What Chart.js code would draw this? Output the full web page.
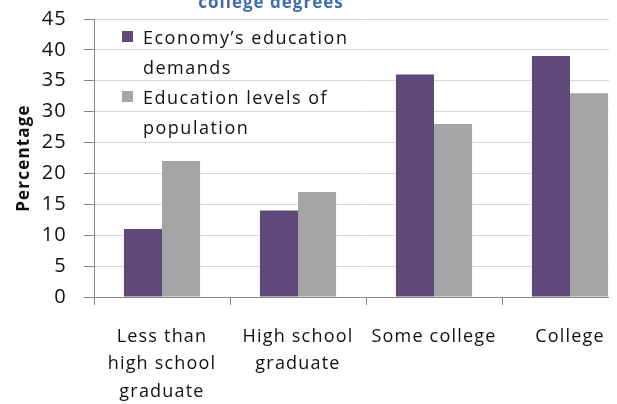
<!DOCTYPE html>
<html lang="en">
<head>
    <meta charset="UTF-8">
    <title>college degrees</title>
    <script src="https://cdn.jsdelivr.net/npm/chart.js"></script>
    <style>
        body { margin: 0; overflow: hidden; background: #fff; font-family: "Open Sans", sans-serif; }
        #wrap { position: relative; width: 609px; height: 404px; overflow: hidden; background: #fff; }
        /* el lienzo sube 10px para que el grafico empiece arriba como en el original */
        #chart { position: absolute; left: 0; top: -10px; }
        #legend { position: absolute; left: 122px; top: 22px; width: 240px; font-size: 18px; letter-spacing: 1.5px; color: #111; }
        .item { display: flex; align-items: flex-start; line-height: 30px; }
        .box { width: 11px; height: 11px; margin: 9px 10px 0 0; flex: none; }
    </style>
</head>
<body>
<div id="wrap">
    <canvas id="chart" width="650" height="414"></canvas>
    <div id="legend"></div>
</div>
<script>
    // datos
    const categories = [
        ['Less than', 'high school', 'graduate'],
        ['High school', 'graduate'],
        'Some college',
        'College'
    ];
    const seriesNames = ['Economy\u2019s education demands', 'Education levels of population'];
    const demands = [11, 14, 36, 39];
    const population = [22, 17, 28, 33];
    const yTicks = [0, 5, 10, 15, 20, 25, 30, 35, 40, 45];
    const colors = ['#5f497a', '#a5a5a5'];

    // espaciado de letras para parecerse al texto original
    const spacingPlugin = {
        id: 'spacing',
        beforeLayout(chart) { chart.ctx.letterSpacing = '1.2px'; },
        beforeDraw(chart) { chart.ctx.letterSpacing = '1.2px'; }
    };

    // titulo (solo se ve la parte baja)
    const titlePlugin = {
        id: 'cutTitle',
        afterDraw(chart) {
            const ctx = chart.ctx;
            ctx.save();
            ctx.letterSpacing = '1px';
            ctx.font = 'bold 17px "Open Sans"';
            ctx.fillStyle = '#3e6eab';
            ctx.textAlign = 'center';
            ctx.textBaseline = 'alphabetic';
            ctx.fillText('college degrees', 271, 18);
            ctx.restore();
        }
    };

    const axisColor = '#868686';

    const chart = new Chart(document.getElementById('chart'), {
        type: 'bar',
        data: {
            labels: categories,
            datasets: [
                { label: seriesNames[0], data: demands, backgroundColor: colors[0] },
                { label: seriesNames[1], data: population, backgroundColor: colors[1] }
            ]
        },
        options: {
            responsive: false,
            animation: false,
            layout: { padding: { top: 0, right: 12, left: 0, bottom: 0 } },
            datasets: { bar: { categoryPercentage: 0.56, barPercentage: 1 } },
            plugins: { legend: { display: false }, tooltip: { enabled: false } },
            scales: {
                x: {
                    grid: { drawOnChartArea: false, tickLength: 8, tickColor: axisColor },
                    border: { color: axisColor },
                    ticks: {
                        color: '#111', maxRotation: 0, autoSkip: false, padding: 18,
                        font: { family: 'Open Sans', size: 18, lineHeight: 27.5 / 18 }
                    },
                    afterFit(scale) { scale.height = 107; }
                },
                y: {
                    min: 0, max: 45,
                    afterBuildTicks(scale) { scale.ticks = yTicks.map(v => ({ value: v })); },
                    grid: { color: '#d9d9d9', tickLength: 10, tickColor: axisColor },
                    border: { color: axisColor },
                    ticks: { color: '#111', padding: 17, font: { family: 'Open Sans', size: 20 } },
                    title: {
                        display: true, text: 'Percentage', color: '#111',
                        font: { family: 'Open Sans', size: 17, weight: 'bold' },
                        padding: { top: 14, bottom: 0 }
                    },
                    afterFit(scale) { scale.width = 94; }
                }
            }
        },
        plugins: [spacingPlugin, titlePlugin]
    });

    // leyenda dentro del area del grafico
    const legend = document.getElementById('legend');
    chart.data.datasets.forEach(ds => {
        const item = document.createElement('div');
        item.className = 'item';
        const box = document.createElement('span');
        box.className = 'box';
        box.style.background = ds.backgroundColor;
        const text = document.createElement('span');
        text.textContent = ds.label;
        item.appendChild(box);
        item.appendChild(text);
        legend.appendChild(item);
    });
</script>
</body>
</html>
